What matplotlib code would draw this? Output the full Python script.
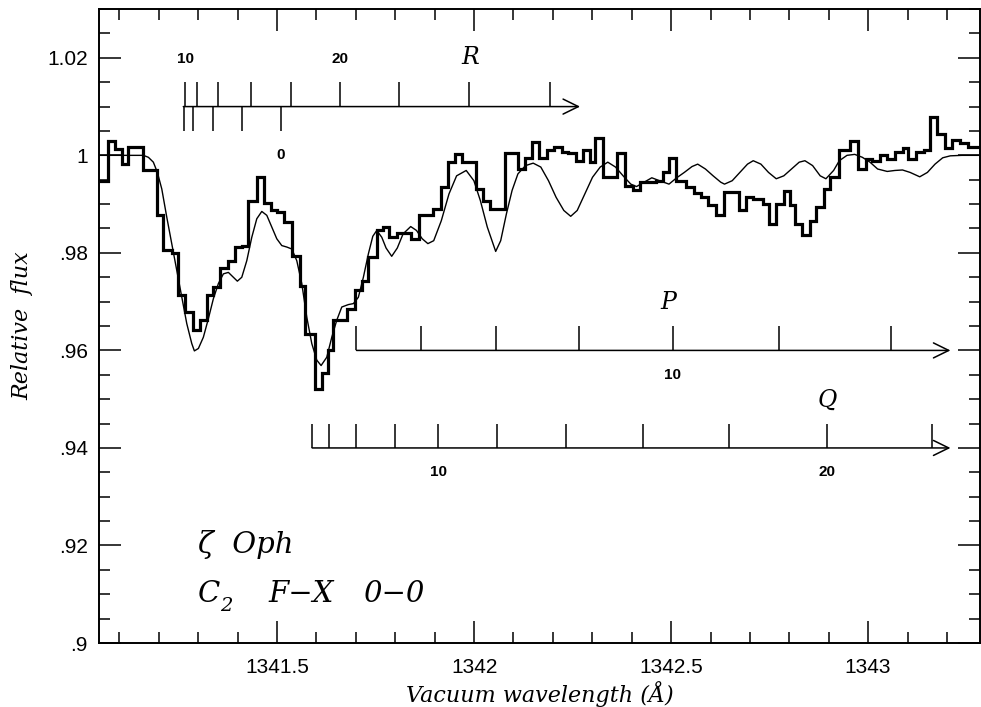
import matplotlib
matplotlib.use("Agg")
import matplotlib.pyplot as plt
from matplotlib.ticker import MultipleLocator, FuncFormatter

# observed spectrum: bin edges (Angstrom) and relative flux per bin
obs_edges = [
    1341.0482, 1341.0718, 1341.0888, 1341.1058, 1341.1226, 1341.1591, 1341.1947,
    1341.2114, 1341.2327, 1341.2495, 1341.2665, 1341.2876, 1341.3046, 1341.3216,
    1341.3383, 1341.3553, 1341.3764, 1341.3934, 1341.4104, 1341.4272, 1341.4500,
    1341.4670, 1341.4840, 1341.5008, 1341.5178, 1341.5373, 1341.5584, 1341.5711,
    1341.5964, 1341.6135, 1341.6302, 1341.6429, 1341.6769, 1341.6980, 1341.7150,
    1341.7317, 1341.7530, 1341.7698, 1341.7843, 1341.8051, 1341.8391, 1341.8604,
    1341.8954, 1341.9150, 1341.9343, 1341.9508, 1341.9703, 1342.0043, 1342.0218,
    1342.0411, 1342.0772, 1342.1112, 1342.1287, 1342.1480, 1342.1645, 1342.1840,
    1342.2033, 1342.2228, 1342.2393, 1342.2586, 1342.2761, 1342.2937, 1342.3074,
    1342.3266, 1342.3637, 1342.3830, 1342.4025, 1342.4218, 1342.4607, 1342.4802,
    1342.4947, 1342.5112, 1342.5386, 1342.5579, 1342.5754, 1342.5949, 1342.6142,
    1342.6338, 1342.6726, 1342.6891, 1342.7084, 1342.7327, 1342.7472, 1342.7668,
    1342.7860, 1342.8008, 1342.8152, 1342.8327, 1342.8513, 1342.8688, 1342.8881,
    1342.9028, 1342.9251, 1342.9543, 1342.9736, 1342.9949, 1343.0096, 1343.0289,
    1343.0485, 1343.0678, 1343.0873, 1343.1018, 1343.1213, 1343.1406, 1343.1581,
    1343.1746, 1343.1942, 1343.2135, 1343.2330, 1343.2523, 1343.2843,
]
obs_flux = [
    0.9948, 1.0030, 1.0013, 0.9982, 1.0018, 0.9969, 0.9877, 0.9805, 0.9799, 0.9713,
    0.9679, 0.9642, 0.9662, 0.9713, 0.9730, 0.9769, 0.9784, 0.9813, 0.9815, 0.9907,
    0.9955, 0.9903, 0.9888, 0.9883, 0.9863, 0.9793, 0.9733, 0.9633, 0.9520, 0.9554,
    0.9600, 0.9662, 0.9685, 0.9724, 0.9743, 0.9791, 0.9846, 0.9853, 0.9832, 0.9840,
    0.9829, 0.9877, 0.9890, 0.9936, 0.9986, 1.0003, 0.9986, 0.9931, 0.9907, 0.9890,
    1.0005, 0.9972, 0.9995, 1.0027, 0.9995, 1.0010, 1.0018, 1.0006, 1.0004, 0.9989,
    1.0011, 0.9986, 1.0036, 0.9955, 1.0004, 0.9938, 0.9929, 0.9946, 0.9948, 0.9965,
    0.9995, 0.9948, 0.9936, 0.9922, 0.9914, 0.9899, 0.9877, 0.9924, 0.9887, 0.9914,
    0.9911, 0.9901, 0.9860, 0.9901, 0.9926, 0.9899, 0.9860, 0.9836, 0.9866, 0.9894,
    0.9931, 0.9956, 1.0010, 1.0030, 0.9972, 0.9993, 0.9989, 1.0001, 0.9993, 1.0006,
    1.0015, 0.9993, 1.0006, 1.0011, 1.0078, 1.0044, 1.0016, 1.0032, 1.0025, 1.0018,
]

# synthetic C2 F-X (0-0) profile
model_wave = [
    1341.0482, 1341.1607, 1341.1734, 1341.1860, 1341.1962, 1341.2074, 1341.2201,
    1341.2327, 1341.2454, 1341.2581, 1341.2708, 1341.2835, 1341.2901, 1341.3003,
    1341.3129, 1341.3256, 1341.3383, 1341.3510, 1341.3637, 1341.3764, 1341.3891,
    1341.3992, 1341.4104, 1341.4231, 1341.4358, 1341.4485, 1341.4612, 1341.4739,
    1341.4865, 1341.4992, 1341.5119, 1341.5246, 1341.5373, 1341.5500, 1341.5627,
    1341.5754, 1341.5881, 1341.6008, 1341.6117, 1341.6261, 1341.6388, 1341.6515,
    1341.6642, 1341.6810, 1341.6937, 1341.7063, 1341.7190, 1341.7317, 1341.7429,
    1341.7530, 1341.7657, 1341.7766, 1341.7909, 1341.8051, 1341.8198, 1341.8391,
    1341.8538, 1341.8683, 1341.8827, 1341.8975, 1341.9168, 1341.9363, 1341.9556,
    1341.9800, 1341.9995, 1342.0160, 1342.0335, 1342.0480, 1342.0548, 1342.0675,
    1342.0820, 1342.0964, 1342.1112, 1342.1305, 1342.1500, 1342.1693, 1342.1888,
    1342.2081, 1342.2277, 1342.2452, 1342.2617, 1342.2810, 1342.3005, 1342.3201,
    1342.3393, 1342.3589, 1342.3782, 1342.3977, 1342.4122, 1342.4317, 1342.4510,
    1342.4706, 1342.4947, 1342.5142, 1342.5335, 1342.5530, 1342.5675, 1342.5871,
    1342.6066, 1342.6259, 1342.6355, 1342.6551, 1342.6744, 1342.6939, 1342.7084,
    1342.7279, 1342.7472, 1342.7668, 1342.7860, 1342.8056, 1342.8251, 1342.8396,
    1342.8591, 1342.8784, 1342.8929, 1342.9124, 1342.9269, 1342.9464, 1342.9660,
    1342.9853, 1343.0048, 1343.0241, 1343.0485, 1343.0678, 1343.0873, 1343.1066,
    1343.1310, 1343.1505, 1343.1698, 1343.1893, 1343.2086, 1343.2378, 1343.2843,
]
model_flux = [
    1.0000, 1.0000, 0.9996, 0.9986, 0.9965, 0.9931, 0.9873, 0.9819, 0.9764, 0.9709,
    0.9655, 0.9614, 0.9599, 0.9604, 0.9627, 0.9665, 0.9706, 0.9737, 0.9757, 0.9760,
    0.9750, 0.9742, 0.9750, 0.9784, 0.9832, 0.9870, 0.9885, 0.9877, 0.9853, 0.9829,
    0.9815, 0.9812, 0.9808, 0.9784, 0.9737, 0.9668, 0.9614, 0.9580, 0.9569, 0.9586,
    0.9627, 0.9662, 0.9689, 0.9694, 0.9696, 0.9709, 0.9750, 0.9798, 0.9834, 0.9846,
    0.9832, 0.9810, 0.9793, 0.9810, 0.9839, 0.9854, 0.9846, 0.9829, 0.9819, 0.9825,
    0.9866, 0.9921, 0.9958, 0.9969, 0.9948, 0.9907, 0.9853, 0.9819, 0.9803, 0.9825,
    0.9880, 0.9928, 0.9962, 0.9979, 0.9984, 0.9976, 0.9948, 0.9914, 0.9887, 0.9875,
    0.9887, 0.9921, 0.9955, 0.9976, 0.9986, 0.9976, 0.9958, 0.9941, 0.9936, 0.9945,
    0.9954, 0.9948, 0.9941, 0.9954, 0.9965, 0.9977, 0.9982, 0.9972, 0.9958, 0.9945,
    0.9941, 0.9948, 0.9965, 0.9982, 0.9989, 0.9982, 0.9965, 0.9952, 0.9958, 0.9972,
    0.9986, 0.9989, 0.9979, 0.9958, 0.9952, 0.9969, 0.9989, 1.0000, 1.0002, 0.9996,
    0.9986, 0.9972, 0.9967, 0.9969, 0.9970, 0.9965, 0.9956, 0.9965, 0.9982, 0.9995,
    0.9999, 1.0000, 1.0000,
]

# line positions of the R, P and Q branches
r_upper = [1341.2665, 1341.2962, 1341.3510, 1341.4333, 1341.5348, 1341.6600,
           1341.8096, 1341.9880, 1342.1929]
r_lower = [1341.2640, 1341.2860, 1341.3383, 1341.4104, 1341.5094]
p_lines = [1341.7015, 1341.8665, 1342.0558, 1342.2650, 1342.5048, 1342.7746,
           1343.0574]
q_lines = [1341.5891, 1341.6322, 1341.7015, 1341.7982, 1341.9084, 1342.0591,
           1342.2330, 1342.4279, 1342.6480, 1342.8957, 1343.1632]

serif = "DejaVu Serif"
sans = "Liberation Sans"

fig = plt.figure(figsize=(9.81, 7.07), dpi=100)
ax = fig.add_axes([0.1009, 0.0905, 0.8981, 0.8967])

ax.stairs(obs_flux, obs_edges, baseline=None, color="k", lw=2.3)
ax.plot(model_wave, model_flux, color="k", lw=1.0)

lk = dict(color="k", lw=1.1)
tick_h = 0.005
arrow = dict(arrowstyle="->,head_length=0.55,head_width=0.27",
             mutation_scale=20, shrinkA=0, shrinkB=0, **lk)
num = dict(ha="center", va="center", family=sans, fontsize=11, weight="bold")
branch = dict(ha="center", va="center", family=serif, style="italic",
              fontsize=17)

# R branch: band head, lines above and below the bar
r_y = 1.010
ax.annotate("", xy=(1342.269, r_y), xytext=(1341.262, r_y), arrowprops=arrow)
ax.vlines(r_upper, r_y, r_y + tick_h, **lk)
ax.vlines(r_lower, r_y - tick_h, r_y, **lk)
ax.text(r_upper[0], 1.0198, "10", **num)
ax.text(r_upper[5], 1.0198, "20", **num)
ax.text(r_lower[-1], 1.0, "0", **num)
ax.text(1341.99, 1.0200, "R", **branch)

# P branch
p_y = 0.960
ax.annotate("", xy=(1343.209, p_y), xytext=(p_lines[0], p_y), arrowprops=arrow)
ax.vlines(p_lines, p_y, p_y + tick_h, **lk)
ax.text(p_lines[4], 0.9549, "10", **num)
ax.text(1342.494, 0.9699, "P", **branch)

# Q branch
q_y = 0.940
ax.annotate("", xy=(1343.209, q_y), xytext=(q_lines[0], q_y), arrowprops=arrow)
ax.vlines(q_lines, q_y, q_y + tick_h, **lk)
ax.text(q_lines[4], 0.9351, "10", **num)
ax.text(q_lines[9], 0.9351, "20", **num)
ax.text(q_lines[9], 0.9498, "Q", **branch)

# star and band annotation
big = dict(family=serif, style="italic", fontsize=21, va="baseline",
           transform=ax.transAxes)
ax.text(0.1124, 0.142, "ζ  Oph", **big)
ax.text(0.1124, 0.0651, "C", **big)
ax.text(0.1372, 0.051, "2", family=serif, style="italic", fontsize=14,
        va="baseline", transform=ax.transAxes)
ax.text(0.1918, 0.0651, "F\u2212X", **big)
ax.text(0.2997, 0.0651, "0\u22120", **big)

ax.set_xlim(1341.048, 1343.284)
ax.set_ylim(0.9, 1.03)

ax.xaxis.set_major_locator(MultipleLocator(0.5))
ax.xaxis.set_minor_locator(MultipleLocator(0.1))
ax.yaxis.set_major_locator(MultipleLocator(0.02))
ax.yaxis.set_minor_locator(MultipleLocator(0.005))
ax.xaxis.set_major_formatter(FuncFormatter(lambda v, p: f"{v:g}"))


def flux_label(v, pos):
    s = f"{v:.2f}".rstrip("0").rstrip(".")
    return s[1:] if s.startswith("0") else s


ax.yaxis.set_major_formatter(FuncFormatter(flux_label))

ax.tick_params(which="both", direction="in", top=True, right=True, width=1.1,
               color="k")
ax.tick_params(which="major", length=15.8)
ax.tick_params(which="minor", length=7.9)
ax.tick_params(axis="x", which="major", pad=10.5)
ax.tick_params(axis="y", which="major", pad=8)
for lab in ax.get_xticklabels() + ax.get_yticklabels():
    lab.set_fontfamily(sans)
    lab.set_fontsize(15)
for sp in ax.spines.values():
    sp.set_linewidth(1.4)

ax.set_xlabel("Vacuum wavelength (Å)", family=serif, style="italic",
              fontsize=16)
ax.set_ylabel("Relative  flux", family=serif, style="italic", fontsize=16)
ax.xaxis.label.set_va("center")
ax.yaxis.label.set_va("center")
ax.xaxis.set_label_coords(0.5, -0.08)
ax.yaxis.set_label_coords(-0.0874, 0.5)

fig.savefig("out.png", dpi=100)
